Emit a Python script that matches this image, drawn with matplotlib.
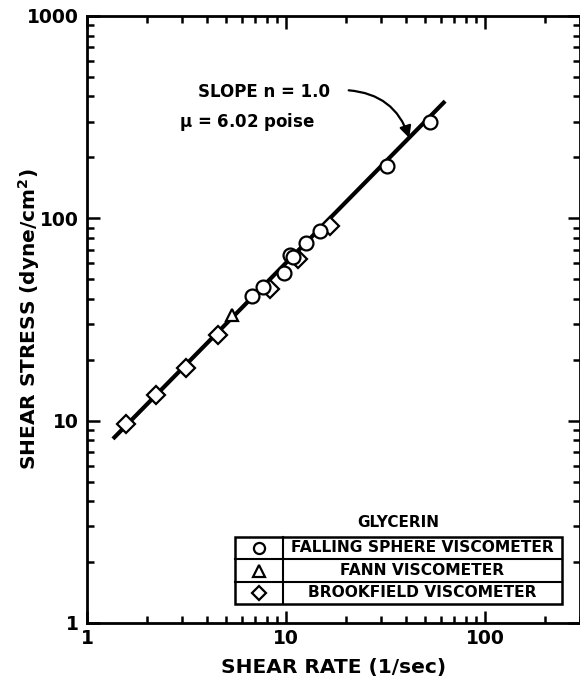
import numpy as np
import matplotlib.pyplot as plt
from matplotlib.patches import Rectangle, FancyArrowPatch
from matplotlib.ticker import LogLocator, NullFormatter, FixedLocator, FixedFormatter

# falling sphere viscometer (circles)
fs_rate = [6.72, 7.64, 9.8, 10.5, 10.8, 12.6, 14.8, 32.1, 52.9]
fs_stress = [41.5, 45.7, 53.5, 66.0, 64.5, 75.4, 86.9, 181.0, 298.0]
# fann viscometer (triangle)
fann_rate = [5.33]
fann_stress = [33.4]
# brookfield viscometer (diamonds)
bf_rate = [1.57, 2.22, 3.14, 4.54, 8.32, 11.5, 16.6]
bf_stress = [9.6, 13.4, 18.3, 26.4, 44.5, 62.7, 91.2]

# fitted line, n = 1.0, mu = 6.02 poise
mu = 6.02
line_rate = [1.35, 63.0]

xticks = [1, 10, 100]
yticks = [1, 10, 100, 1000]

plt.rcParams['font.family'] = ['DejaVu Sans']
plt.rcParams['font.weight'] = 'bold'

fig = plt.figure(figsize=(5.8, 6.79), dpi=100)
ax = fig.add_axes([0.15, 0.0825, 0.85, 0.894])
ax.set_xscale('log')
ax.set_yscale('log')
ax.set_xlim(1, 300)
ax.set_ylim(1, 1000)

ax.plot(line_rate, [mu * r for r in line_rate], color='black', lw=3.0,
        solid_capstyle='butt', zorder=2)

mk = dict(linestyle='none', markerfacecolor='white', markeredgecolor='black',
          markeredgewidth=1.6, zorder=3)
ax.plot(bf_rate, bf_stress, marker='D', markersize=9, **mk)
ax.plot(fann_rate, fann_stress, marker='^', markersize=9, **mk)
ax.plot(fs_rate, fs_stress, marker='o', markersize=10, **mk)

# annotation
ax.text(0.36, 0.874, 'SLOPE n = 1.0', transform=ax.transAxes, ha='center',
        va='center', fontsize=12, fontweight='bold')
ax.text(0.325, 0.826, r'$\mathbf{\mu}$ = 6.02 poise', transform=ax.transAxes,
        ha='center', va='center', fontsize=12, fontweight='bold')
arr = FancyArrowPatch((20.0, 430), (42.0, 242), connectionstyle='arc3,rad=-0.35',
                      arrowstyle='-|>,head_length=7,head_width=3.5', lw=1.6,
                      color='black', zorder=4)
ax.add_patch(arr)

# legend table
L, R, T, B = 0.300, 0.963, 0.1417, 0.0313
C = 0.3976
rows = [0.1417, 0.1054, 0.0675, 0.0313]
ax.add_patch(Rectangle((L, B), R - L, T - B, transform=ax.transAxes,
                       facecolor='white', edgecolor='black', lw=1.8, zorder=5))
for yy in rows[1:-1]:
    ax.plot([L, R], [yy, yy], transform=ax.transAxes, color='black', lw=1.5, zorder=6)
ax.plot([C, C], [B, T], transform=ax.transAxes, color='black', lw=1.5, zorder=6)
ax.text((L + R) / 2, 0.166, 'GLYCERIN', transform=ax.transAxes, ha='center',
        va='center', fontsize=11, fontweight='bold')
names = ['FALLING SPHERE VISCOMETER', 'FANN VISCOMETER', 'BROOKFIELD VISCOMETER']
marks = ['o', '^', 'D']
msz = [8, 8, 7.5]
for i in range(3):
    yc = (rows[i] + rows[i + 1]) / 2
    ax.text((C + R) / 2, yc, names[i], transform=ax.transAxes, ha='center',
            va='center', fontsize=11.2, fontweight='bold', zorder=7)
    ax.plot([(L + C) / 2], [yc], transform=ax.transAxes, marker=marks[i],
            markersize=msz[i], linestyle='none', markerfacecolor='white',
            markeredgecolor='black', markeredgewidth=1.6, zorder=7)

# axes styling
for s in ax.spines.values():
    s.set_linewidth(2.0)
ax.xaxis.set_major_locator(FixedLocator(xticks))
ax.xaxis.set_major_formatter(FixedFormatter([str(v) for v in xticks]))
ax.yaxis.set_major_locator(FixedLocator(yticks))
ax.yaxis.set_major_formatter(FixedFormatter([str(v) for v in yticks]))
ax.xaxis.set_minor_locator(LogLocator(base=10, subs=np.arange(2, 10)))
ax.yaxis.set_minor_locator(LogLocator(base=10, subs=np.arange(2, 10)))
ax.xaxis.set_minor_formatter(NullFormatter())
ax.yaxis.set_minor_formatter(NullFormatter())
ax.tick_params(which='both', direction='in', top=True, right=True, width=1.8)
ax.tick_params(which='major', length=9)
ax.tick_params(which='minor', length=5)
ax.tick_params(axis='x', which='major', pad=4, labelsize=13.5)
ax.tick_params(axis='y', which='major', pad=6, labelsize=13.5)
for lab in ax.get_xticklabels() + ax.get_yticklabels():
    lab.set_fontweight('bold')

ax.set_xlabel('SHEAR RATE (1/sec)', fontsize=14.5, fontweight='bold')
ax.set_ylabel('SHEAR STRESS (dyne/cm$^\\mathbf{2}$)', fontsize=14.5,
              fontweight='bold')
ax.xaxis.set_label_coords(0.5, -0.058)
ax.yaxis.set_label_coords(-0.092, 0.5)

fig.savefig('out.png', dpi=100)
